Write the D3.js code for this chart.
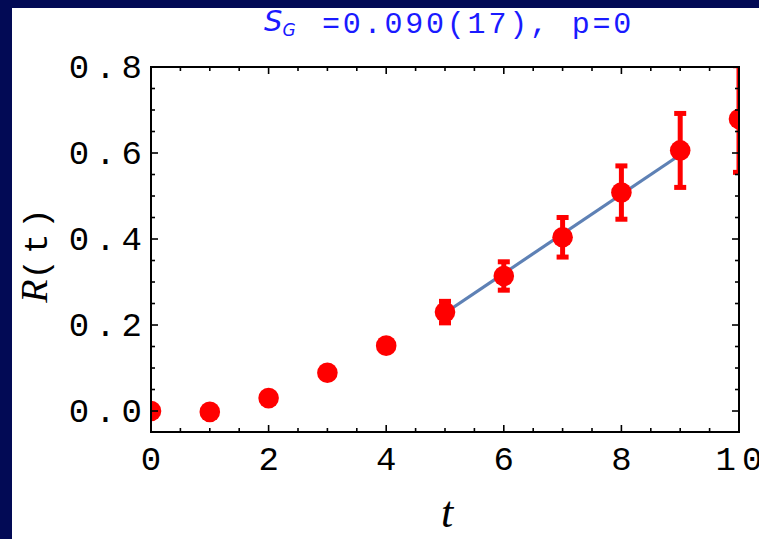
<!DOCTYPE html>
<html>
<head>
<meta charset="utf-8">
<script src="https://cdn.jsdelivr.net/npm/d3@7"></script>
<style>
  html, body { margin: 0; padding: 0; background: #020a55; }
  svg { display: block; }
</style>
</head>
<body>
<svg id="chart" width="759" height="539"></svg>
<script>
// Correlator R(t) versus time slice t, with a linear fit over t = 5..9
const tValues = [0, 1, 2, 3, 4, 5, 6, 7, 8, 9, 10];
const rValues = [0.000, -0.002, 0.030, 0.089, 0.152, 0.230, 0.314, 0.404, 0.508, 0.606, 0.679];
const rErrors = [0.002, 0.003, 0.004, 0.006, 0.008, 0.025, 0.033, 0.046, 0.062, 0.086, 0.124];

const fitRange = [5, 9];
const fitSlope = 0.092;
const fitIntercept = -0.232;

const xTicks = [0, 2, 4, 6, 8, 10];
const yTicks = [0.0, 0.2, 0.4, 0.6, 0.8];
const xTickLabels = ["0", "2", "4", "6", "8", "10"];
const yTickLabels = ["0.0", "0.2", "0.4", "0.6", "0.8"];

(function draw() {
  const svg = d3.select("#chart");
  const W = 759, H = 539;

  // white panel
  svg.append("rect").attr("x", 12).attr("y", 8).attr("width", W - 12).attr("height", H - 8).attr("fill", "#ffffff");

  const pL = 151, pR = 739, pT = 67, pB = 432;
  const x = d3.scaleLinear().domain([0, 10]).range([pL, pR]);
  const y = d3.scaleLinear().domain([-0.0488, 0.8]).range([pB, pT]);

  const mono = "'Liberation Mono', 'DejaVu Sans Mono', monospace";
  const serif = "'Liberation Serif', 'DejaVu Serif', serif";
  const sans = "'DejaVu Sans', sans-serif";

  svg.append("clipPath").attr("id", "plotClip")
    .append("rect").attr("x", pL).attr("y", pT).attr("width", pR - pL).attr("height", pB - pT);

  const plot = svg.append("g").attr("clip-path", "url(#plotClip)");

  // fit line
  const fitData = fitRange.map(t => ({ t, r: fitIntercept + fitSlope * t }));
  plot.append("path")
    .datum(fitData)
    .attr("d", d3.line().x(d => x(d.t)).y(d => y(d.r)))
    .attr("fill", "none")
    .attr("stroke", "#5e81b5")
    .attr("stroke-width", 3.2);

  const pts = tValues.map((t, i) => ({ t, r: rValues[i], e: rErrors[i] }));
  const red = "#ff0000";

  // error bars
  const bars = plot.append("g").selectAll("g").data(pts).join("g");
  bars.append("line")
    .attr("x1", d => x(d.t)).attr("x2", d => x(d.t))
    .attr("y1", d => y(d.r - d.e)).attr("y2", d => y(d.r + d.e))
    .attr("stroke", red).attr("stroke-width", 5);
  bars.append("rect")
    .attr("x", d => x(d.t) - 6).attr("y", d => y(d.r + d.e) - 2.5)
    .attr("width", 12).attr("height", 5).attr("fill", red);
  bars.append("rect")
    .attr("x", d => x(d.t) - 6).attr("y", d => y(d.r - d.e) - 2.5)
    .attr("width", 12).attr("height", 5).attr("fill", red);

  // markers
  plot.append("g").selectAll("circle").data(pts).join("circle")
    .attr("cx", d => x(d.t)).attr("cy", d => y(d.r)).attr("r", 10.3)
    .attr("fill", red);

  // frame
  const frame = svg.append("g").attr("stroke", "#000").attr("fill", "none");
  frame.append("rect").attr("x", pL).attr("y", pT).attr("width", pR - pL).attr("height", pB - pT).attr("stroke-width", 2);

  // ticks (inward on all four sides)
  const xMinor = d3.range(0, 10.001, 0.5);
  const yMinor = d3.range(0, 0.8001, 0.05);
  const isMajorX = v => Math.abs(v / 2 - Math.round(v / 2)) < 1e-6;
  const isMajorY = v => Math.abs(v / 0.2 - Math.round(v / 0.2)) < 1e-6;
  xMinor.forEach(v => {
    const len = isMajorX(v) ? 7 : 4;
    frame.append("line").attr("x1", x(v)).attr("x2", x(v)).attr("y1", pB).attr("y2", pB - len).attr("stroke-width", 1.6);
    frame.append("line").attr("x1", x(v)).attr("x2", x(v)).attr("y1", pT).attr("y2", pT + len).attr("stroke-width", 1.6);
  });
  yMinor.forEach(v => {
    const len = isMajorY(v) ? 7 : 4;
    frame.append("line").attr("y1", y(v)).attr("y2", y(v)).attr("x1", pL).attr("x2", pL + len).attr("stroke-width", 1.6);
    frame.append("line").attr("y1", y(v)).attr("y2", y(v)).attr("x1", pR).attr("x2", pR - len).attr("stroke-width", 1.6);
  });

  // tick labels
  svg.append("g").selectAll("text").data(xTicks).join("text")
    .attr("x", d => x(d)).attr("y", 470)
    .attr("text-anchor", "middle")
    .attr("font-family", mono).attr("font-size", 34).attr("letter-spacing", 6)
    .attr("fill", "#000")
    .attr("dx", 3)
    .text((d, i) => xTickLabels[i]);

  svg.append("g").selectAll("text").data(yTicks).join("text")
    .attr("x", 148).attr("y", d => y(d) + 11)
    .attr("text-anchor", "end")
    .attr("font-family", mono).attr("font-size", 34).attr("letter-spacing", 6)
    .attr("fill", "#000")
    .text((d, i) => yTickLabels[i]);

  // axis titles
  svg.append("text")
    .attr("x", 447).attr("y", 527)
    .attr("text-anchor", "middle")
    .attr("font-family", serif).attr("font-style", "italic").attr("font-size", 44)
    .attr("fill", "#000")
    .text("t");

  const yl = svg.append("text")
    .attr("transform", "translate(47,253) rotate(-90)")
    .attr("text-anchor", "middle")
    .attr("fill", "#000");
  yl.append("tspan").attr("font-family", serif).attr("font-style", "italic").attr("font-size", 38).text("R");
  yl.append("tspan").attr("font-family", mono).attr("font-size", 34).attr("letter-spacing", 5).text("(t)");

  // title
  const title = svg.append("text").attr("x", 264).attr("y", 31).attr("fill", "#1a1aff");
  title.append("tspan").attr("font-family", sans).attr("font-style", "italic").attr("font-size", 29).text("S");
  title.append("tspan").attr("font-family", sans).attr("font-style", "italic").attr("font-size", 17).attr("dx", 0).attr("dy", 5).text("G");
  svg.append("text").attr("x", 322).attr("y", 33).attr("fill", "#1a1aff")
    .attr("font-family", mono).attr("font-size", 30).attr("letter-spacing", 2.8)
    .text("=0.090(17), p=0");
})();
</script>
</body>
</html>
